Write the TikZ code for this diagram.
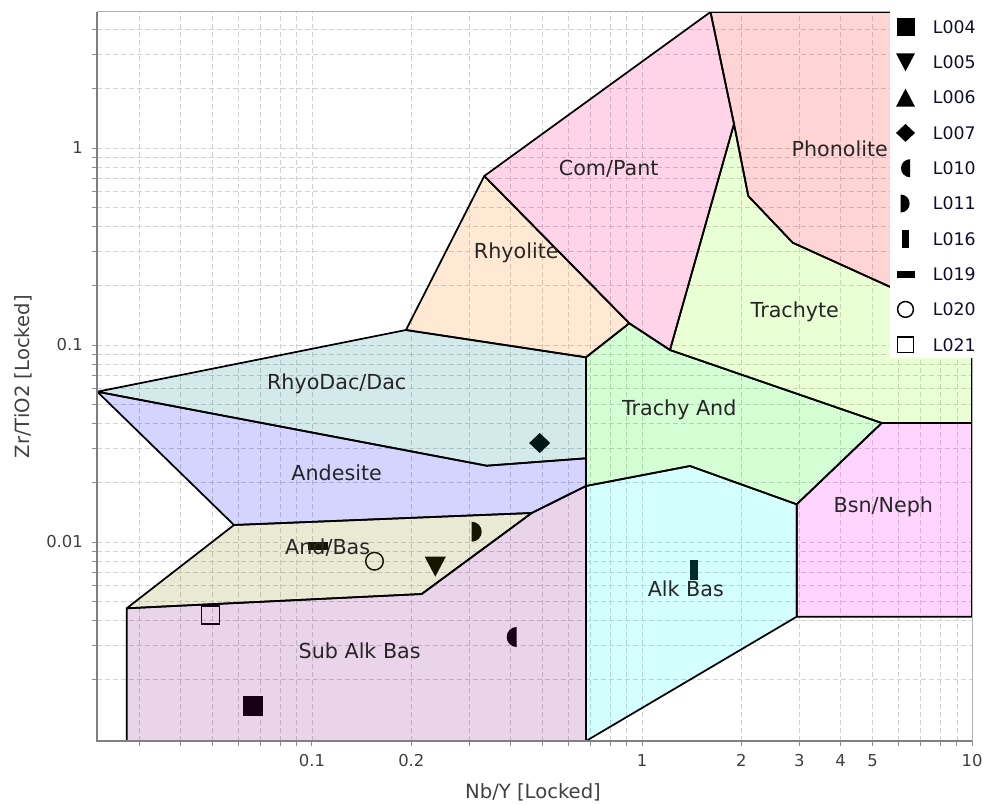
\documentclass[tikz,border=0pt]{standalone}
\usepackage{fontspec}
\setmainfont{DejaVu Sans}

\definecolor{rhyodac}{RGB}{0,128,128}
\definecolor{andesite}{RGB}{0,0,255}
\definecolor{andbas}{RGB}{128,128,0}
\definecolor{subalk}{RGB}{128,0,128}
\definecolor{alkbas}{RGB}{0,255,255}
\definecolor{bsnneph}{RGB}{255,0,255}
\definecolor{trachyand}{RGB}{0,255,0}
\definecolor{trachyte}{RGB}{128,255,0}
\definecolor{phonolite}{RGB}{255,0,0}
\definecolor{compant}{RGB}{255,0,128}
\definecolor{rhyolite}{RGB}{255,128,0}
\definecolor{legendink}{RGB}{15,15,45}

\begin{document}
\begin{tikzpicture}[x=247.5pt, y=147.75pt,
          gridline/.style={black!18, line width=0.6pt, dash pattern=on 3.75pt off 2.25pt},
          tickmark/.style={black!45, line width=0.75pt},
          zone/.style={draw=black, line width=1.3pt, line join=round, fill opacity=0.17},
          zonelabel/.style={font=\fontsize{15.5}{18}\selectfont, text=black!85, anchor=base},
          ticklabel/.style={font=\fontsize{12.3}{14}\selectfont, text=black!75},
          axistitle/.style={font=\fontsize{14.7}{17}\selectfont, text=black!75},
          legendtext/.style={font=\fontsize{13}{15}\selectfont, text=legendink, anchor=west},
          msq/.pic={\fill (-7.5pt,-7.5pt) rectangle (7.5pt,7.5pt);},
          mdown/.pic={\fill (-7.9pt,7.5pt) -- (7.9pt,7.5pt) -- (0pt,-7.5pt) -- cycle;},
          mup/.pic={\fill (-7.9pt,-7.5pt) -- (7.9pt,-7.5pt) -- (0pt,7.5pt) -- cycle;},
          mdia/.pic={\fill (-7.9pt,0pt) -- (0pt,7.5pt) -- (7.9pt,0pt) -- (0pt,-7.5pt) -- cycle;},
          mleft/.pic={\fill (0pt,7.5pt) arc[start angle=90, end angle=270, radius=7.5pt] -- cycle;},
          mright/.pic={\fill (0pt,-7.5pt) arc[start angle=-90, end angle=90, radius=7.5pt] -- cycle;},
          mvbar/.pic={\fill (-3pt,-7.5pt) rectangle (3pt,7.5pt);},
          mhbar/.pic={\fill (-7.5pt,-3pt) rectangle (7.5pt,3pt);},
          mcirc/.pic={\draw[line width=1.1pt] (0pt,0pt) circle[radius=6.6pt];},
          mosq/.pic={\draw[line width=1.1pt] (-6.6pt,-6.6pt) rectangle (6.6pt,6.6pt);}]

        \path[use as bounding box, fill=white] (-1.94545,-3.32487) rectangle (1.03333,0.75127);

        % log grid and ticks
        \foreach \d/\lo in {-2/3,-1/1,0/1}
          \foreach \m in {\lo,...,9} {
            \draw[gridline] ({\d+log10(\m)},-3.0102) -- ({\d+log10(\m)},0.6904);
            \draw[tickmark] ({\d+log10(\m)},-3.0102) -- ++(0pt,-3.75pt);
          }
        \draw[tickmark] (1,-3.0102) -- ++(0pt,-3.75pt);
        \foreach \d/\lo/\hi in {-3/2/9,-2/1/9,-1/1/9,0/1/4}
          \foreach \m in {\lo,...,\hi} {
            \draw[gridline] (-1.6515,{\d+log10(\m)}) -- (1,{\d+log10(\m)});
            \draw[tickmark] (-1.6515,{\d+log10(\m)}) -- ++(-3.75pt,0pt);
          }

        % samples
        \pic at (-1.1788,-2.8325) {msq};
        \pic at (-0.6264,-2.1254) {mdown};
        \pic at (-0.3100,-1.4975) {mdia};
        \pic at (-0.3797,-2.4822) {mleft};
        \pic at (-0.5160,-1.9477) {mright};
        \pic at (0.1582,-2.1437) {mvbar};
        \pic at (-0.9818,-2.0203) {mhbar};
        \pic at (-0.8106,-2.0975) {mcirc};
        \pic at (-1.3076,-2.3706) {mosq};

        \coordinate (apex)   at (-1.6506,-1.2371);
        \coordinate (rdtop)  at (-0.7152,-0.9239);
        \coordinate (rhytop) at (-0.4779,-0.1421);
        \coordinate (cptop)  at (0.2076,0.6904);
        \coordinate (phtr)   at (1,0.6904);
        \coordinate (rhybr)  at (-0.1697,-1.0624);
        \coordinate (tatop)  at (-0.0385,-0.8898);
        \coordinate (cpbot)  at (0.0848,-1.0254);
        \coordinate (phtip)  at (0.2788,0.1218);
        \coordinate (ph1)    at (0.3221,-0.2437);
        \coordinate (ph2)    at (0.4567,-0.4807);
        \coordinate (phr)    at (1,-0.8934);
        \coordinate (tyr)    at (1,-1.3959);
        \coordinate (bntop)  at (0.7264,-1.3959);
        \coordinate (bnl)    at (0.4688,-1.8086);
        \coordinate (bnbl)   at (0.4688,-2.3792);
        \coordinate (bnbr)   at (1,-2.3792);
        \coordinate (abtop)  at (0.1455,-1.6142);
        \coordinate (abl)    at (-0.1697,-1.7157);
        \coordinate (rdbr)   at (-0.1697,-1.5751);
        \coordinate (rdk)    at (-0.4706,-1.6127);
        \coordinate (anb)    at (-1.2364,-1.9137);
        \coordinate (abtr)   at (-0.3342,-1.8528);
        \coordinate (abbr)   at (-0.6676,-2.2640);
        \coordinate (abl2)   at (-1.5615,-2.3365);
        \coordinate (sbl)    at (-1.5615,-3.0102);
        \coordinate (sbr)    at (-0.1697,-3.0102);

        \path[zone, fill=rhyodac]   (apex) -- (rdtop) -- (rhybr) -- (rdbr) -- (rdk) -- cycle;
        \path[zone, fill=andesite]  (apex) -- (rdk) -- (rdbr) -- (abl) -- (abtr) -- (anb) -- cycle;
        \path[zone, fill=andbas]    (abl2) -- (anb) -- (abtr) -- (abbr) -- cycle;
        \path[zone, fill=subalk]    (abl2) -- (abbr) -- (abtr) -- (abl) -- (sbr) -- (sbl) -- cycle;
        \path[zone, fill=alkbas]    (abl) -- (abtop) -- (bnl) -- (bnbl) -- (sbr) -- cycle;
        \path[zone, fill=bsnneph]   (bntop) -- (tyr) -- (bnbr) -- (bnbl) -- (bnl) -- cycle;
        \path[zone, fill=trachyand] (rhybr) -- (tatop) -- (cpbot) -- (bntop) -- (bnl) -- (abtop) -- (abl) -- (rdbr) -- cycle;
        \path[zone, fill=trachyte]  (phtip) -- (ph1) -- (ph2) -- (phr) -- (tyr) -- (bntop) -- (cpbot) -- cycle;
        \path[zone, fill=phonolite] (cptop) -- (phtr) -- (phr) -- (ph2) -- (ph1) -- (phtip) -- cycle;
        \path[zone, fill=compant]   (rhytop) -- (cptop) -- (phtip) -- (cpbot) -- (tatop) -- cycle;
        \path[zone, fill=rhyolite]  (rdtop) -- (rhytop) -- (tatop) -- (rhybr) -- cycle;

        \draw[black!30, line width=0.75pt] (-1.6515,0.6904) -- (1,0.6904) -- (1,-3.0102);
        \draw[black!50, line width=1.5pt] (-1.6515,0.6904) -- (-1.6515,-3.0102) -- (1,-3.0102);

        \node[zonelabel] (lcompant)   at (-0.1009,-0.1371) {Com/Pant};
        \node[zonelabel] (lphonolite) at (0.5990,-0.0406) {Phonolite};
        \node[zonelabel] (lrhyolite)  at (-0.3810,-0.5599) {Rhyolite};
        \node[zonelabel] (ltrachyte)  at (0.4630,-0.8614) {Trachyte};
        \node[zonelabel] (ltrachyand) at (0.1127,-1.3553) {Trachy And};
        \node[zonelabel] (lrhyodac)   at (-0.9252,-1.2284) {RhyoDac/Dac};
        \node[zonelabel] (landesite)  at (-0.9252,-1.6853) {Andesite};
        \node[zonelabel] (landbas)    at (-0.9524,-2.0624) {And/Bas};
        \node[zonelabel] (lsubalk)    at (-0.8555,-2.5888) {Sub Alk Bas};
        \node[zonelabel] (lalkbas)    at (0.1327,-2.2777) {Alk Bas};
        \node[zonelabel] (lbsnneph)   at (0.7312,-1.8492) {Bsn/Neph};

        \foreach \v/\p [count=\i] in {0.1/-1, 0.2/-0.69897, 1/0, 2/0.30103, 3/0.47712, 4/0.60206, 5/0.69897, 10/1}
          \node[ticklabel] (xt\i) at (\p,-3.108) {\v};
        \foreach \v/\p [count=\i] in {1/0, 0.1/-1, 0.01/-2}
          \node[ticklabel, anchor=east] (yt\i) at (-1.6803,\p) {\v};

        \node[axistitle] (xtitle) at (-0.3303,-3.2716) {Nb/Y [Locked]};
        \node[axistitle, rotate=90] (ytitle) at (-1.8742,-1.1609) {Zr/TiO2 [Locked]};

        % legend
        \fill[white] (0.7515,0.7107) rectangle (1.0333,-1.0660);
        \pic[scale=0.9] at (0.7985,0.6142) {msq};
        \pic[scale=0.9] at (0.7985,0.4350) {mdown};
        \pic[scale=0.9] at (0.7985,0.2558) {mup};
        \pic[scale=0.9] at (0.7985,0.0766) {mdia};
        \pic[scale=0.9] at (0.8121,-0.1026) {mleft};
        \pic[scale=0.9] at (0.7839,-0.2818) {mright};
        \pic[scale=0.9] at (0.7985,-0.4610) {mvbar};
        \pic[scale=0.9] at (0.7985,-0.6402) {mhbar};
        \pic[scale=0.9] at (0.7985,-0.8194) {mcirc};
        \pic[scale=0.9] at (0.7985,-0.9986) {mosq};
        \foreach \name [count=\i from 0] in {L004,L005,L006,L007,L010,L011,L016,L019,L020,L021}
          \node[legendtext] (leg\name) at (0.8673,{0.6142-0.1792*\i}) {\name};
      \end{tikzpicture}
\end{document}
